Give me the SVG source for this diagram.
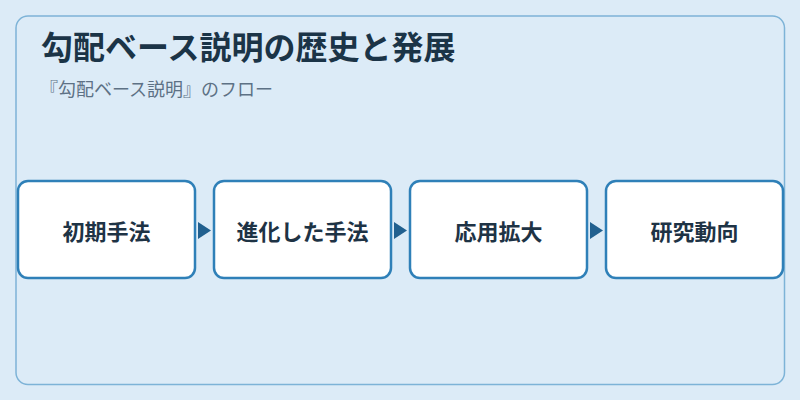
<svg xmlns="http://www.w3.org/2000/svg" width="800" height="400" viewBox="0 0 800 400">
  <defs>
    <style>
      .bg { fill: #dcebf7; }
      .frame { fill: #dcebf7; stroke: #7db3d7; stroke-width: 1.5; }
      .title { font-family: "Noto Sans CJK JP", "Noto Sans", sans-serif; font-size: 32px; font-weight: bold; fill: #1b3447; }
      .subtitle { font-family: "Noto Sans CJK JP", "Noto Sans", sans-serif; font-size: 18px; fill: #5d7185; }
      .node rect { fill: #ffffff; stroke: #2f80b8; stroke-width: 2.5; }
      .node text { font-family: "Noto Sans CJK JP", "Noto Sans", sans-serif; font-size: 22px; font-weight: bold; fill: #1e3345; text-anchor: middle; }
      .arrow { fill: #21608f; }
    </style>
  </defs>
  <rect class="bg" x="0" y="0" width="800" height="400"/>
  <rect class="frame" x="16" y="16" width="768.5" height="368.5" rx="12"/>
  <text class="title" x="41" y="59">勾配ベース説明の歴史と発展</text>
  <text class="subtitle" x="40" y="96">『勾配ベース説明』のフロー</text>
  <g id="connectors">
    <polygon class="arrow" points="198,222 211,230.5 198,239"/>
    <polygon class="arrow" points="394,222 407,230.5 394,239"/>
    <polygon class="arrow" points="590,222 603,230.5 590,239"/>
  </g>
  <g id="node1" class="node">
    <rect x="18" y="181" width="177" height="97" rx="10"/>
    <text x="106.5" y="240">初期手法</text>
  </g>
  <g id="node2" class="node">
    <rect x="214" y="181" width="177" height="97" rx="10"/>
    <text x="302.5" y="240">進化した手法</text>
  </g>
  <g id="node3" class="node">
    <rect x="410" y="181" width="177" height="97" rx="10"/>
    <text x="498.5" y="240">応用拡大</text>
  </g>
  <g id="node4" class="node">
    <rect x="606" y="181" width="177" height="97" rx="10"/>
    <text x="694.5" y="240">研究動向</text>
  </g>
</svg>
